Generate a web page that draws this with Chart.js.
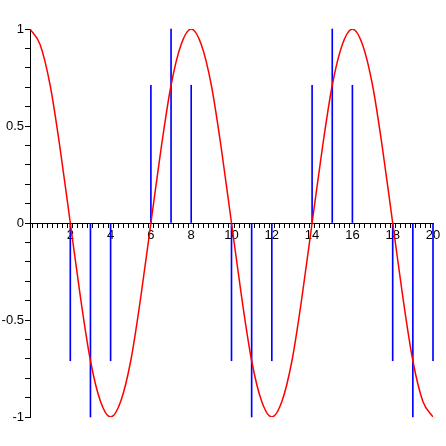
<!DOCTYPE html>
<html>
<head>
<meta charset="utf-8">
<script src="https://cdn.jsdelivr.net/npm/chart.js@4/dist/chart.umd.min.js"></script>
<style>
  html, body { margin: 0; padding: 0; background: #fff; }
  #wrap { width: 446px; height: 446px; position: relative; }
</style>
</head>
<body>
<div id="wrap"><canvas id="plot"></canvas></div>
<script>
// red curve, every 0.5 in t
var curveT = [0, 0.5, 1, 1.5, 2, 2.5, 3, 3.5, 4, 4.5, 5, 5.5, 6, 6.5, 7, 7.5, 8, 8.5, 9, 9.5, 10,
              10.5, 11, 11.5, 12, 12.5, 13, 13.5, 14, 14.5, 15, 15.5, 16, 16.5, 17, 17.5, 18, 18.5, 19, 19.5, 20];
var curveY = [1, 0.92, 0.71, 0.38, 0, -0.38, -0.71, -0.92, -1, -0.92, -0.71, -0.38, 0, 0.38, 0.71, 0.92, 1,
              0.92, 0.71, 0.38, 0, -0.38, -0.71, -0.92, -1, -0.92, -0.71, -0.38, 0, 0.38, 0.71, 0.92, 1,
              0.92, 0.71, 0.38, 0, -0.38, -0.71, -0.92, -1];

// blue stems
var stemT = [2, 3, 4, 6, 7, 8, 10, 11, 12, 14, 15, 16, 18, 19, 20];
var stemY = [-0.71, -1, -0.71, 0.71, 1, 0.71, -0.71, -1, -0.71, 0.71, 1, 0.71, -0.71, -1, -0.71];

var curvePts = curveT.map(function (t, i) { return { x: t, y: curveY[i] }; });
var stemPts = stemT.map(function (t, i) { return { x: t, y: stemY[i] }; });

function near(v, step) {
    return Math.abs(v / step - Math.round(v / step)) < 1e-6;
}

var ctx = document.getElementById("plot");

new Chart(ctx, {
    data: {
        datasets: [
            {
                type: 'line',
                data: curvePts,
                borderColor: "#ff0000",
                borderWidth: 1.5,
                pointRadius: 0,
                fill: false,
                cubicInterpolationMode: 'monotone',
                order: 0
            },
            {
                type: 'bar',
                data: stemPts,
                backgroundColor: "#0000ff",
                borderWidth: 0,
                barThickness: 1,
                clip: false,
                order: 1
            }
        ]
    },
    options: {
        responsive: true,
        maintainAspectRatio: false,
        animation: false,
        layout: { padding: { top: 29, bottom: 29, left: 0, right: 13 } },
        plugins: {
            legend: { display: false },
            tooltip: { enabled: false }
        },
        scales: {
            x: {
                type: 'linear',
                position: { y: 0 },
                min: 0,
                max: 20,
                offset: false,
                grid: { drawOnChartArea: false, drawTicks: true, tickLength: 4, color: "#000" },
                border: { display: true, color: "#000", width: 1 },
                ticks: {
                    stepSize: 0.25,
                    autoSkip: false,
                    maxRotation: 0,
                    padding: 1,
                    color: "#000",
                    font: { family: "Liberation Sans", size: 13 },
                    callback: function (v) {
                        if (v > 0 && near(v, 2)) return String(Math.round(v));
                        return "";
                    }
                }
            },
            y: {
                type: 'linear',
                position: 'left',
                min: -1,
                max: 1,
                grid: { drawOnChartArea: false, drawTicks: true, tickLength: 5, color: "#000" },
                border: { display: true, color: "#000", width: 1 },
                afterFit: function (scale) { scale.width = 30; },
                ticks: {
                    stepSize: 0.1,
                    autoSkip: false,
                    padding: 1,
                    color: "#000",
                    font: { family: "Liberation Sans", size: 13 },
                    callback: function (v) {
                        if (near(v, 0.5)) {
                            var r = Math.round(v * 2) / 2;
                            return String(r);
                        }
                        return "";
                    }
                }
            }
        }
    }
});
</script>
</body>
</html>
